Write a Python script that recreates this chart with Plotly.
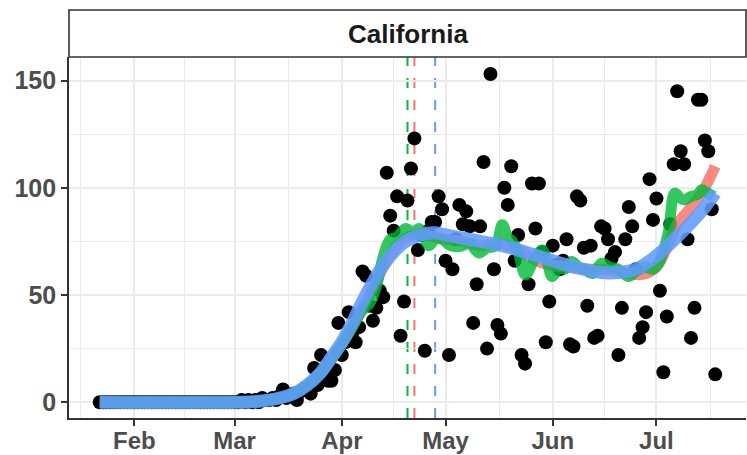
import pandas as pd
import plotly.graph_objects as go

# ---------------- data ----------------
first_date = "2020-01-22"
ref_date = "2020-02-01"   # origin for curve-knot day offsets

deaths_jan = [0, 0, 0, 0, 0, 0, 0, 0, 0, 0]
deaths_feb = [0, 0, 0, 0, 0, 0, 0, 0, 0, 0, 0, 0, 0, 0, 0, 0, 0, 0, 0, 0,
              0, 0, 0, 0, 0, 0, 0, 0, 0]
deaths_mar = [0, 0, 1, 0, 1, 0, 1, 0, 2, 1, 1, 2, 1, 3, 6, 2, 3, 4, 1, 5,
              6, 7, 4, 16, 8, 22, 12, 10, 10, 15, 37]
deaths_apr = [22, 28, 42, 32, 28, 35, 61, 59, 45, 38, 44, 52, 49, 107, 87,
              80, 96, 31, 47, 94, 109, 123, 71, 78, 24, 80, 84, 84, 96, 90]
deaths_may = [66, 22, 62, 76, 92, 83, 89, 82, 37, 55, 82, 112, 25, 153, 62,
              36, 32, 100, 92, 110, 66, 78, 22, 18, 55, 102, 81, 102, 70, 28, 47]
deaths_jun = [73, 64, 62, 66, 76, 27, 26, 96, 94, 72, 45, 73, 30, 31, 82,
              81, 76, 67, 70, 22, 44, 76, 91, 82, 62, 30, 35, 42, 104, 85]
deaths_jul = [95, 52, 14, 40, 83, 111, 145, 117, 111, 76, 30, 44, 141, 141,
              122, 117, 90, 13]

# smoothed curves: knots as (days after Feb 1, value)
red_days = [-10, 30, 36, 42, 46, 50, 54, 57, 60, 63, 66, 69, 72, 75, 78, 81,
            84, 87, 90, 95, 100, 105, 110, 115, 120, 125, 130, 135, 140, 145,
            148, 151, 154, 157, 160, 163, 165, 168]
red_vals = [0, 0, 0.5, 2, 4, 8, 14, 20, 27, 35, 44, 53, 63, 71, 76, 78,
            78, 77, 76, 75, 73, 74, 72, 67, 64, 63, 62, 62, 61, 59.5,
            60, 63, 72, 83, 89, 95, 100, 110]

green_days = [-10, 30, 36, 42, 46, 50, 54, 57, 60, 63, 66, 68, 70, 72, 74, 76,
              78.5, 80.5, 82.4, 85.2, 87, 89, 91.5, 94, 97, 99.6, 102, 104.5,
              106.4, 108, 109.3, 111, 113.1, 115.5, 117.9, 119.5, 120.8, 123,
              124.5, 126.5, 128.5, 130.4, 132.5, 135.2, 137.5, 140, 142.9, 145,
              147.7, 150, 152, 154.4, 156.3, 158, 159.2, 161.1, 163, 164, 165.4,
              167.5]
green_vals = [0, 0, 0.5, 2, 4, 8, 14, 20, 27, 35, 43, 46, 54, 68, 76, 77,
              81, 79, 81, 73, 76, 76, 73, 72.6, 74, 69.6, 72, 73,
              82.7, 77, 75, 70, 59.4, 66, 71, 65, 58.6, 63,
              62, 65.6, 63, 61.7, 60, 64.8, 63, 62, 58.6, 61,
              63, 62, 66, 79, 97.5, 95, 94.4, 96, 97, 99, 98,
              96]

blue_days = [-10, 30, 36, 42, 46, 50, 54, 57, 60, 63, 66, 69, 72, 75, 78, 81,
             84, 87, 90, 95, 100, 105, 110, 115, 120, 125, 130, 135, 140, 145,
             150, 155, 160, 165, 168]
blue_vals = [0, 0, 0.5, 2, 4, 8, 14, 21, 28, 37, 47, 56, 64, 70, 74.5, 77,
             78.5, 79, 78, 76.5, 75, 73.5, 71.5, 69, 66.5, 64, 62, 60.5, 60.5,
             62, 67, 74, 82, 91, 97.5]

vline_dates = ["2020-04-20", "2020-04-22", "2020-04-28"]
vline_colors = ["#00BA38", "#F8766D", "#619CFF"]

x_tick_dates = ["2020-02-01", "2020-03-01", "2020-04-01", "2020-05-01",
                "2020-06-01", "2020-07-01"]
x_tick_labels = ["Feb", "Mar", "Apr", "May", "Jun", "Jul"]
y_tick_vals = [0, 50, 100, 150]
y_minor_vals = [25, 75, 125]
panel_title = "California"

# ---------------- build ----------------
deaths = deaths_jan + deaths_feb + deaths_mar + deaths_apr + deaths_may + deaths_jun + deaths_jul
dates = pd.date_range(first_date, periods=len(deaths), freq="D")
origin = pd.Timestamp(ref_date)


def to_dates(days):
    return [origin + pd.Timedelta(days=d) for d in days]


# ggplot-like 5% expansion
span = dates[-1] - dates[0]
x_range = [dates[0] - span * 0.05, dates[-1] + span * 0.05]
ymax = max(deaths)
y_range = [-0.048 * ymax, 1.052 * ymax]

# minor x gridlines: midpoints between month breaks
month_breaks = pd.date_range("2020-01-01", "2020-08-01", freq="MS")
x_minor = [month_breaks[i] + (month_breaks[i + 1] - month_breaks[i]) / 2
           for i in range(len(month_breaks) - 1)]

FONT = "Liberation Sans, Arial, sans-serif"

fig = go.Figure()
fig.add_trace(go.Scatter(x=dates, y=deaths, mode="markers",
                         marker=dict(color="black", size=14),
                         hoverinfo="skip", showlegend=False))
for days, vals, col, w, op in [
    (red_days, red_vals, "#F8766D", 11, 0.85),
    (green_days, green_vals, "#00BA38", 11, 0.8),
    (blue_days, blue_vals, "#619CFF", 13, 0.88),
]:
    fig.add_trace(go.Scatter(x=to_dates(days), y=vals, mode="lines",
                             line=dict(color=col, width=w, shape="spline", smoothing=1.0),
                             opacity=op, hoverinfo="skip", showlegend=False))

for d, c in zip(vline_dates, vline_colors):
    fig.add_shape(type="line", xref="x", yref="paper", x0=d, x1=d, y0=0, y1=1,
                  line=dict(color=c, width=2, dash="10px,12px"), layer="between")

# strip
strip_h = 47 / 361
fig.add_shape(type="rect", xref="paper", yref="paper", x0=0, x1=1, y0=1, y1=1 + strip_h,
              line=dict(color="#333333", width=1.6), fillcolor="white", layer="above")
fig.add_annotation(text="<b>%s</b>" % panel_title, xref="paper", yref="paper",
                   x=0.5, y=1 + strip_h / 2, showarrow=False,
                   font=dict(family=FONT, size=26, color="#1A1A1A"),
                   xanchor="center", yanchor="middle")

axis_common = dict(showline=True, linecolor="#333333", linewidth=1.6,
                   ticks="outside", ticklen=6, tickwidth=1.5, tickcolor="#333333",
                   gridcolor="#EBEBEB", gridwidth=1.5, zeroline=False,
                   automargin=False)

fig.update_xaxes(type="date", range=x_range, tickmode="array",
                 tickvals=x_tick_dates, ticktext=["<b>%s</b>" % t for t in x_tick_labels],
                 minor=dict(tickmode="array", tickvals=x_minor, showgrid=True,
                            gridcolor="#EBEBEB", gridwidth=1.2, ticks=""),
                 ticklabelstandoff=-6,
                 tickfont=dict(family=FONT, size=24, color="#4D4D4D"),
                 **axis_common)
fig.update_yaxes(range=y_range, tickmode="array", tickvals=y_tick_vals,
                 ticktext=["<b>%d</b>" % v for v in y_tick_vals],
                 minor=dict(tickmode="array", tickvals=y_minor_vals, showgrid=True,
                            gridcolor="#EBEBEB", gridwidth=1.2, ticks=""),
                 tickfont=dict(family=FONT, size=25, color="#4D4D4D"),
                 **axis_common)

fig.update_layout(width=747, height=455,
                  margin=dict(l=69, r=1, t=57, b=37, autoexpand=False),
                  plot_bgcolor="white", paper_bgcolor="white",
                  showlegend=False)

fig.write_html("out.html", config={"displayModeBar": False},
               post_script="document.body.style.margin='0';document.body.style.padding='0';")
